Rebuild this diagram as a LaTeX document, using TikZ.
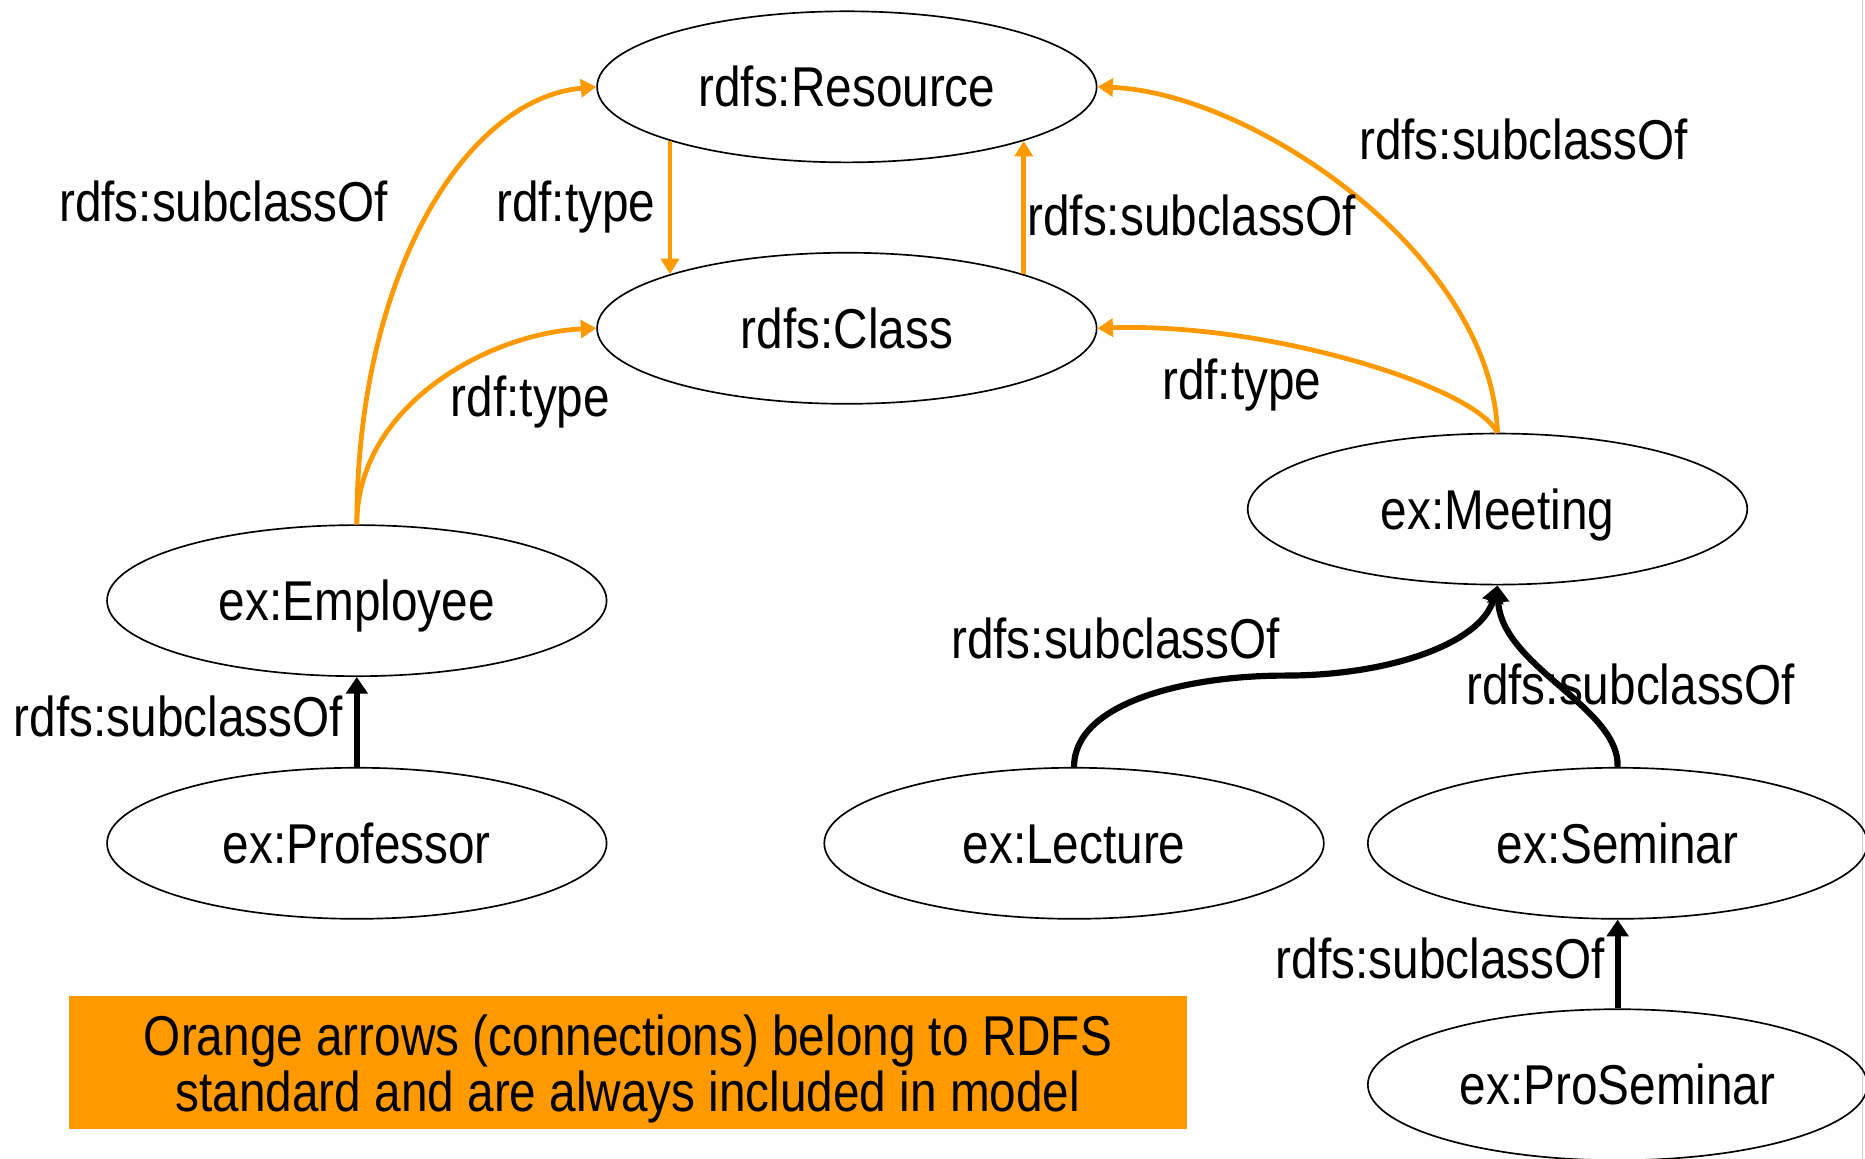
\documentclass[tikz,border=0pt]{standalone}
\usepackage{fontspec}
\setmainfont{Liberation Sans}[FakeStretch=0.85]
\usetikzlibrary{arrows.meta,shapes.geometric}
\definecolor{rdfsorange}{RGB}{255,153,0}
\definecolor{edgegray}{RGB}{200,208,222}
\begin{document}
\begin{tikzpicture}[x=0.5pt,y=-0.5pt,
  every node/.style={font=\fontsize{23.6}{23.5}\selectfont},
  classnode/.style={ellipse,draw,line width=0.7pt,minimum width=210pt,minimum height=63.5pt,inner sep=0pt,text height=16.9pt,text depth=0pt},
  lbl/.style={anchor=base,inner sep=0pt},
  oarr/.style={draw=rdfsorange,line width=2pt,-{Triangle[length=6.5pt,width=7.5pt]}},
  barr/.style={draw=black,line width=2.6pt,-{Triangle[length=7pt,width=9pt]}}
]
\useasboundingbox (0,0) rectangle (1568,974);
\draw[edgegray,line width=0.5pt] (1566,0) -- (1566,974);

% classes
\node[classnode] (res) at (712,73) {rdfs:Resource};
\node[classnode] (cls) at (712,276) {rdfs:Class};
\node[classnode] (mee) at (1259,428) {ex:Meeting};
\node[classnode] (emp) at (300,505) {ex:Employee};
\node[classnode] (pro) at (300,709) {ex:Professor};
\node[classnode] (lec) at (903,709) {ex:Lecture};
\node[classnode] (sem) at (1360,709) {ex:Seminar};
\node[classnode] (prs) at (1360,912) {ex:ProSeminar};

% orange RDFS connections
\draw[oarr] (res.197) -- (cls.163);
\draw[oarr] (cls.17) -- (res.343);
\draw[oarr] (emp.north) .. controls +(0,-210) and +(-110,10) .. (res.west);
\draw[oarr] (emp.north) .. controls +(0,-100) and +(-90,4) .. (cls.west);
\draw[oarr] (mee.north) .. controls +(-5,-150) and +(130,5) .. (res.east);
\draw[oarr] (mee.north) .. controls +(-20,-40) and +(140,-5) .. (cls.east);

% black connections
\coordinate (lm) at (1080,568);
\draw[barr] (pro.north) -- (emp.south);
\draw[barr] (prs.north) -- (sem.south);
\draw[barr] (lec.north) .. controls +(0,-55) and +(-80,0) .. (lm)
  .. controls +(90,0) and +(-14,48) .. (mee.south);
\draw[barr] (sem.north) .. controls +(2,-50) and +(3,68) .. (mee.south);

% labels
\node[lbl] (l1) at (188,186) {rdfs:subclassOf};
\node[lbl] (l2) at (484,186) {rdf:type};
\node[lbl] (l3) at (1002,198) {rdfs:subclassOf};
\node[lbl] (l4) at (1281,134) {rdfs:subclassOf};
\node[lbl] (l5) at (446,350) {rdf:type};
\node[lbl] (l6) at (1044,336) {rdf:type};
\node[lbl] (l7) at (150,619) {rdfs:subclassOf};
\node[lbl] (l8) at (938,554) {rdfs:subclassOf};
\node[lbl] (l9) at (1371,592) {rdfs:subclassOf};
\node[lbl] (l10) at (1211,823) {rdfs:subclassOf};

% note
\node[fill=rdfsorange,minimum width=470pt,minimum height=56pt,inner sep=0pt] (note) at (528,893) {};
\node[align=center,inner sep=0pt] (notetext) at (528,899)
  {Orange arrows (connections) belong to RDFS\\standard and are always included in model};
\end{tikzpicture}
\end{document}
